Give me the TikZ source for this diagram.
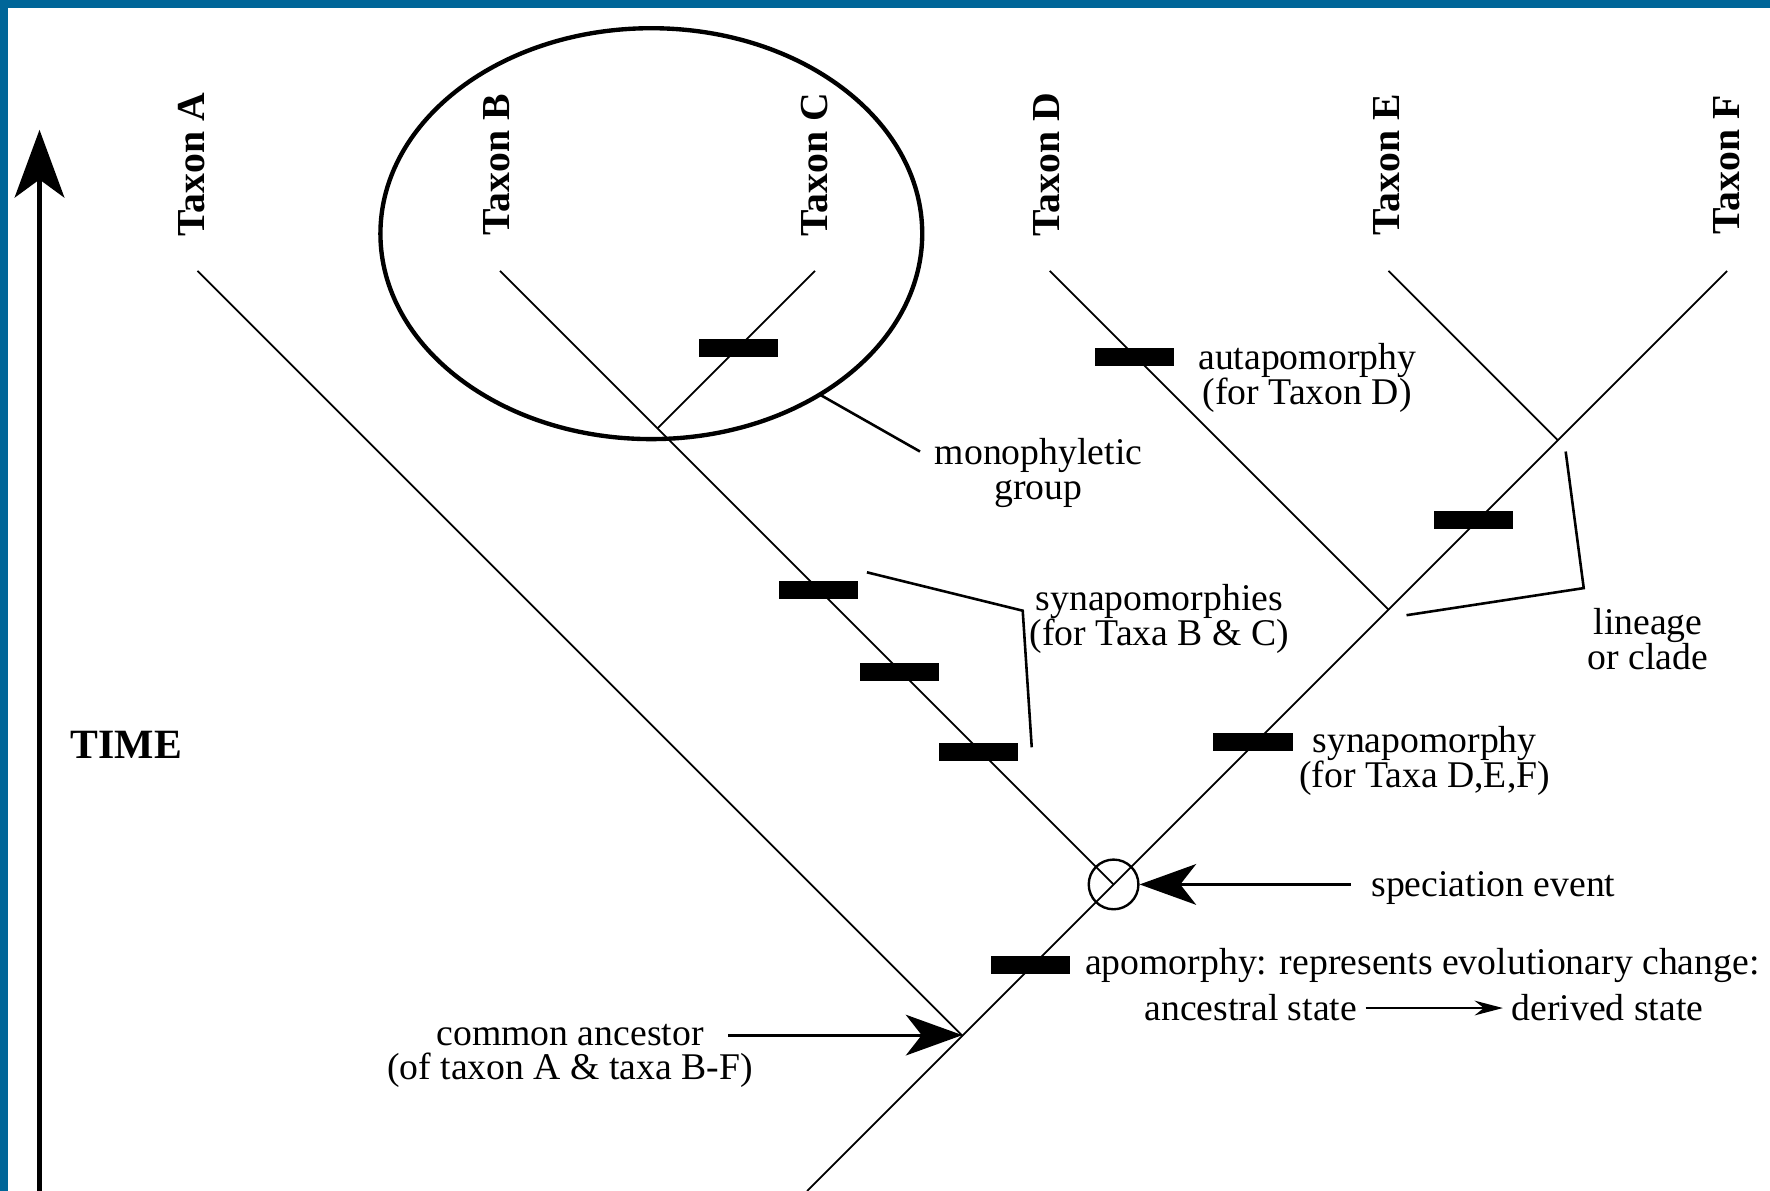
\documentclass[tikz,border=0pt]{standalone}
\usepackage{fontspec}
\setmainfont{Liberation Serif}
\usepackage{tikz}
\usetikzlibrary{arrows.meta, calc, positioning}
\definecolor{frameblue}{RGB}{0,102,153}

\tikzset{
  branch/.style={line width=0.45pt, black},
  bar/.style={fill=black, minimum width=0.70cm, minimum height=0.16cm, inner sep=0pt},
  taxon/.style={rotate=90, font=\fontsize{10}{12}\selectfont\bfseries},
  note/.style={align=center, font=\fontsize{9.5}{8.8}\selectfont, inner sep=2pt},
  pointer/.style={line width=0.65pt},
  bigtip/.style={line width=0.8pt, -{Stealth[length=0.5cm, width=0.36cm, inset=0.14cm]}},
}

\begin{document}
\begin{tikzpicture}[x=0.01cm, y=-0.01cm]
        % Frame
        \useasboundingbox (0,0) rectangle (1568,1055);
        \fill[white] (0,0) rectangle (1568,1055);
        \fill[frameblue] (0,0) rectangle (1568,7);
        \fill[frameblue] (0,0) rectangle (7,1055);

        % Define Coordinates
        \coordinate (tA) at (175,240);
        \coordinate (tB) at (443,240);
        \coordinate (tC) at (722,240);
        \coordinate (tD) at (930,240);
        \coordinate (tE) at (1230,240);
        \coordinate (tF) at (1530,240);
        \coordinate (root) at (715,1055);
        \coordinate (CA) at (852.5,917.5);
        \coordinate (SP) at (986.5,783.5);
        \coordinate (BC) at (582.5,379.5);
        \coordinate (DEF) at (1230,540);
        \coordinate (EF) at (1380,390);

        % Draw Branches
        \draw[branch] (root) -- (tF);
        \draw[branch] (tA) -- (CA);
        \draw[branch] (tB) -- (SP);
        \draw[branch] (tC) -- (BC);
        \draw[branch] (tD) -- (DEF);
        \draw[branch] (tE) -- (EF);

        % Taxon Labels
        \foreach \t/\x in {A/170, B/440, C/722, D/927, E/1228, F/1530}
            \node[taxon] (lab\t) at (\x,146) {Taxon \t};

        % Monophyletic Group (Ellipse)
        \draw[line width=1.1pt] (577,207) ellipse [x radius=240, y radius=182];

        % Time Axis
        \coordinate (T0) at (35,1055);
        \coordinate (T1) at (35,115);
        \draw[line width=1.1pt, -{Stealth[length=0.6cm, width=0.44cm, inset=0.16cm]}] (T0) -- (T1);
        \node[font=\fontsize{10.5}{12}\selectfont\bfseries] (time) at (112,660) {TIME};

        % Apomorphies (Bars)
        \node[bar] (apoC) at (654,308) {};
        \node[bar] (apoD) at (1005,316) {};
        \node[bar] (apoB1) at (725,523) {};
        \node[bar] (apoB2) at (797,595) {};
        \node[bar] (apoB3) at (867,666) {};
        \node[bar] (apoEF) at (1305,461) {};
        \node[bar] (apoDEF) at (1110,657) {};
        \node[bar] (apoAll) at (913,855) {};

        % Speciation Event
        \node[draw, circle, minimum size=0.44cm, inner sep=0pt, line width=0.6pt] (spc) at (SP) {};

        % Labels
        \node[note] (autapo) at (1158,335) {autapomorphy\\(for Taxon D)};
        \node[note] (mono) at (920,419) {monophyletic\\group};
        \node[note] (synBC) at (1027,548) {synapomorphies\\(for Taxa B \& C)};
        \node[note] (synDEF) at (1262,674) {synapomorphy\\(for Taxa D,E,F)};
        \node[note] (clade) at (1460,566) {lineage\\or clade};
        \node[note] (spec) at (1323,787) {speciation event};
        \node[note] (apo) at (1260,855) {apomorphy: represents evolutionary change:};
        \node[note] (anc) at (1108,893) {ancestral state};
        \node[note] (der) at (1424,893) {derived state};
        \node[note] (ca1) at (505,917) {common ancestor};
        \node[note] (ca2) at (505,948) {(of taxon A \& taxa B-F)};

        % Pointers and Brackets
        \coordinate (m1) at (727,350);
        \coordinate (m2) at (815,400);
        \draw[pointer] (m1) -- (m2);
        \coordinate (s1) at (768,507);
        \coordinate (s2) at (906,541);
        \coordinate (s3) at (914,662);
        \draw[pointer] (s1) -- (s2) -- (s3);
        \coordinate (c1) at (1387,400);
        \coordinate (c2) at (1403,521);
        \coordinate (c3) at (1246,545);
        \draw[pointer] (c1) -- (c2) -- (c3);

        % Arrows
        \draw[bigtip] ([xshift=4pt]ca1.east) -- (ca1.east -| CA);
        \draw[bigtip] ([xshift=-3pt]spec.west |- spc.east) -- (spc.east);
        \draw[pointer, -{Stealth[length=0.25cm, width=0.13cm]}] (anc.east) -- (der.west);

    \end{tikzpicture}
\end{document}
